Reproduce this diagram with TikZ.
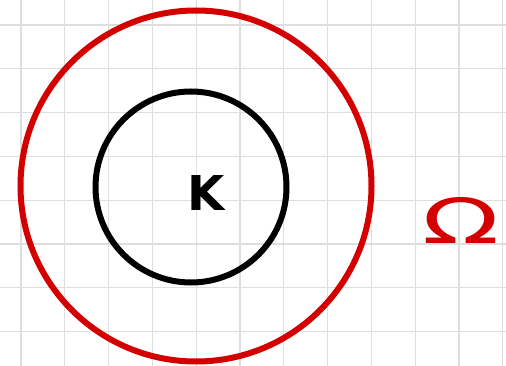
\documentclass[tikz,border=0pt]{standalone}
\usepackage{fontspec}
\setmainfont{DejaVu Sans}
\definecolor{setred}{RGB}{212,0,0}
\definecolor{gridgray}{RGB}{222,222,222}
\begin{document}
\begin{tikzpicture}[
  x=1pt, y=-1pt,
  every node/.style={inner sep=0pt, outer sep=0pt},
  gridline/.style={draw=gridgray, line width=1.3pt},
  ring/.style={circle, draw, line width=6pt},
  outer ring/.style={ring, draw=setred, minimum size=351pt},
  inner ring/.style={ring, draw=black, minimum size=191pt},
  setlabel/.style={font=\fontsize{48}{48}\selectfont\bfseries}
]
\useasboundingbox (0,0) rectangle (506,366);
% background grid
\foreach \i in {0,...,11}
  \draw[gridline] (21+43.8*\i,0) -- (21+43.8*\i,366);
\foreach \j in {0,...,7}
  \draw[gridline] (0,25+43.8*\j) -- (506,25+43.8*\j);
% the two sets
\node[outer ring] (omega set) at (196,186) {};
\node[inner ring] (k set) at (191,187) {};
\node[setlabel] (k label) at (206,193) {K};
\node[setlabel, font=\fontsize{48}{48}\selectfont, text=setred] (omega label) at (461,220)
  {\scalebox{2.1}[1.3]{Ω}};
\end{tikzpicture}
\end{document}
